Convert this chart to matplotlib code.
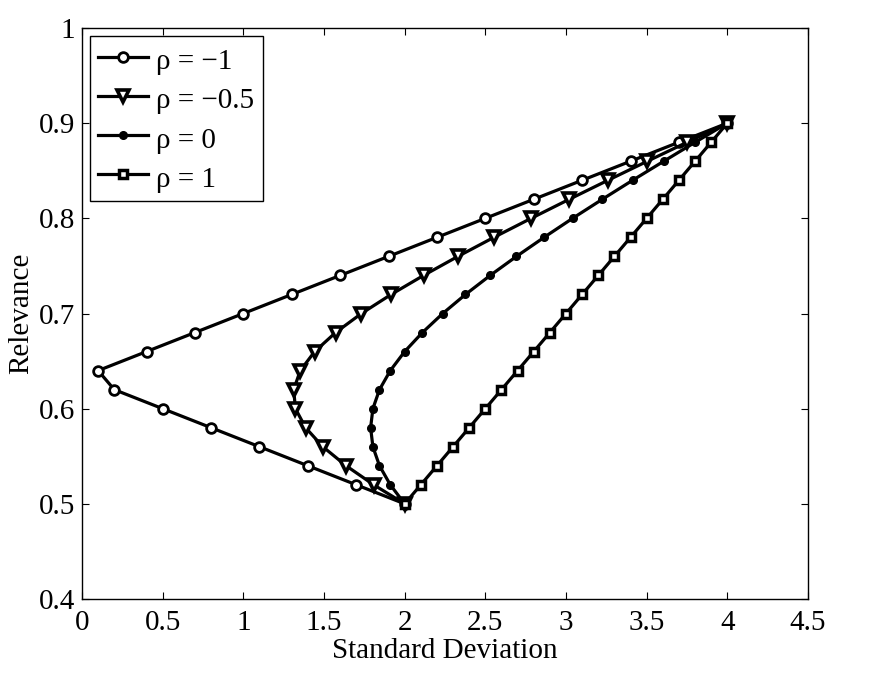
import matplotlib
matplotlib.use("Agg")
import matplotlib.pyplot as plt

relevance = [0.50, 0.52, 0.54, 0.56, 0.58, 0.60, 0.62, 0.64, 0.66, 0.68, 0.70,
             0.72, 0.74, 0.76, 0.78, 0.80, 0.82, 0.84, 0.86, 0.88, 0.90]
std_rho_m1 = [2.0, 1.7, 1.4, 1.1, 0.8, 0.5, 0.2, 0.1, 0.4, 0.7, 1.0,
              1.3, 1.6, 1.9, 2.2, 2.5, 2.8, 3.1, 3.4, 3.7, 4.0]
std_rho_m05 = [2.0, 1.808, 1.637, 1.493, 1.386, 1.323, 1.312, 1.353, 1.442, 1.572, 1.732,
               1.916, 2.117, 2.330, 2.553, 2.784, 3.020, 3.260, 3.504, 3.751, 4.0]
std_rho_0 = [2.0, 1.911, 1.844, 1.803, 1.789, 1.803, 1.844, 1.911, 2.0, 2.110, 2.236,
             2.377, 2.530, 2.693, 2.864, 3.041, 3.225, 3.413, 3.606, 3.801, 4.0]
std_rho_1 = [2.0, 2.1, 2.2, 2.3, 2.4, 2.5, 2.6, 2.7, 2.8, 2.9, 3.0,
             3.1, 3.2, 3.3, 3.4, 3.5, 3.6, 3.7, 3.8, 3.9, 4.0]
labels = ["ρ = −1", "ρ = −0.5", "ρ = 0", "ρ = 1"]
xticks = [0, 0.5, 1, 1.5, 2, 2.5, 3, 3.5, 4, 4.5]
xticklabels = ['0', '0.5', '1', '1.5', '2', '2.5', '3', '3.5', '4', '4.5']
yticks = [0.4, 0.5, 0.6, 0.7, 0.8, 0.9, 1.0]
yticklabels = ['0.4', '0.5', '0.6', '0.7', '0.8', '0.9', '1']

plt.rcParams['font.family'] = ['Liberation Serif', 'DejaVu Serif']

fig = plt.figure(figsize=(8.72, 6.94), dpi=100)
ax = fig.add_axes([82/872, (694-599)/694, (808-82)/872, (599-28)/694])

lw = 2.3
ax.plot(std_rho_m1, relevance, '-o', color='black', lw=lw, ms=7, mfc='white',
        mec='black', mew=2.0, label=labels[0])
ax.plot(std_rho_m05, relevance, '-v', color='black', lw=lw, ms=8.5, mfc='white',
        mec='black', mew=2.6, label=labels[1])
ax.plot(std_rho_0, relevance, '-o', color='black', lw=lw, ms=5.5, mfc='black',
        mec='black', mew=1, label=labels[2])
ax.plot(std_rho_1, relevance, '-s', color='black', lw=lw, ms=6, mfc='white',
        mec='black', mew=2.5, label=labels[3])

ax.set_xlim(0, 4.5)
ax.set_ylim(0.4, 1.0)
ax.set_xticks(xticks)
ax.set_xticklabels(xticklabels)
ax.set_yticks(yticks)
ax.set_yticklabels(yticklabels)
ax.tick_params(direction='in', length=5, width=0.8, top=True, right=True,
               labelsize=21)
ax.tick_params(axis='x', pad=8)
ax.tick_params(axis='y', pad=5)
for s in ax.spines.values():
    s.set_linewidth(1.0)

ax.set_xlabel('Standard Deviation', fontsize=21, labelpad=1)
ax.set_ylabel('Relevance', fontsize=21, labelpad=3)

leg = ax.legend(loc='upper left', bbox_to_anchor=(0.011, 0.986), borderaxespad=0,
                fancybox=False, edgecolor='black', framealpha=1, fontsize=21,
                handlelength=1.7, handletextpad=0.3, labelspacing=0.27,
                borderpad=0.28, handleheight=1.25)
leg.get_frame().set_linewidth(1.0)

fig.savefig('out.png', dpi=100)
